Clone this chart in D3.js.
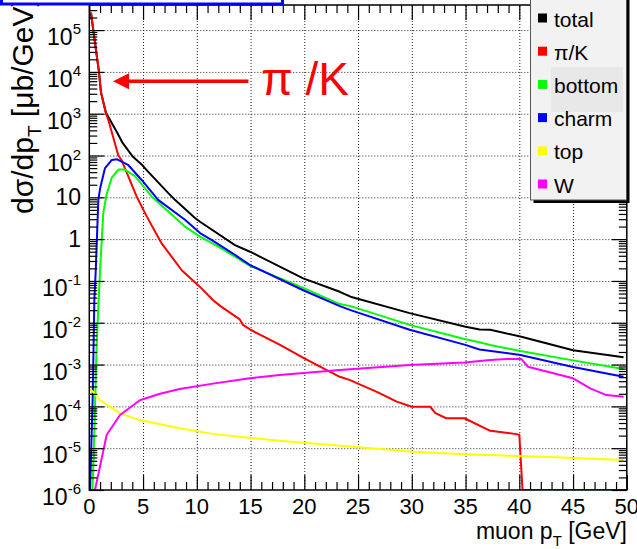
<!DOCTYPE html>
<html>
<head>
<meta charset="utf-8">
<script src="https://cdnjs.cloudflare.com/ajax/libs/d3/7.8.5/d3.min.js"></script>
<style>
body { margin: 0; background: #fff; }
svg { display: block; }
text { font-family: "Liberation Sans", Arial, Helvetica, sans-serif; }
</style>
</head>
<body>
<div id="chart"></div>
<script>

// [pT (GeV), dsigma/dpT (mub/GeV)], 0 = empty bin
var totalPts = [[0.16, 2.6e5], [0.37, 1.0e5], [0.9, 1.0e4], [1.09, 3.2e3], [1.55, 1.05e3], [2.6, 3.5e2],
    [3.1, 2.0e2], [4.06, 9.3e1], [4.9, 6.0e1], [5.4, 4.3e1], [7.35, 1.26e1], [7.97, 8.7], [9.83, 3.2],
    [10.3, 2.6], [13.55, 0.72], [14.95, 0.5], [19.9, 0.115], [23.3, 5.5e-2], [24.3, 4.2e-2],
    [29.8, 1.7e-2], [34.9, 8.1e-3], [36.3, 6.9e-3], [37.3, 6.8e-3], [40.1, 4.7e-3], [45.0, 2.2e-3],
    [49.7, 1.5e-3]];

var pikPts = [[0.16, 2.6e5], [0.37, 1.0e5], [0.9, 1.0e4], [1.09, 3.2e3], [1.55, 1.0e3], [1.77, 7.1e2],
    [2.7, 1.0e2], [3.0, 7.8e1], [4.4, 1.05e1], [5.34, 3.5], [6.73, 0.79], [8.6, 0.18], [10.3, 7.2e-2],
    [11.5, 3.5e-2], [12.2, 2.5e-2], [14.0, 1.2e-2], [14.3, 8.9e-3], [15.0, 6.8e-3], [17.7, 3.0e-3],
    [20.0, 1.4e-3], [23.3, 5.1e-4], [24.2, 4.3e-4], [26.8, 2.2e-4], [28.6, 1.3e-4], [30.0, 9.8e-5],
    [31.7, 9.8e-5], [32.2, 6.9e-5], [33.2, 5.2e-5], [34.9, 5.2e-5], [37.3, 2.6e-5], [39.6, 2.2e-5],
    [40.0, 2.1e-5], [40.3, 0], [50, 0]];

var bottomPts = [[0.3, 0], [0.47, 2.5e-5], [0.69, 3.3e-3], [1.0, 0.18], [1.3, 4.2], [1.6, 1.15e1],
    [2.08, 2.9e1], [2.7, 4.6e1], [3.3, 4.6e1], [4.25, 3.2e1], [5.8, 1.05e1], [8.9, 2.0], [10.3, 1.15],
    [12.0, 0.66], [13.55, 0.38], [14.95, 0.23], [19.9, 6.8e-2], [23.3, 2.8e-2], [24.3, 2.5e-2],
    [29.8, 8.9e-3], [34.9, 4.1e-3], [36.3, 3.4e-3], [37.3, 2.95e-3], [40.1, 2.1e-3], [45.0, 1.26e-3],
    [49.7, 7.8e-4]];

var charmPts = [[0.07, 0], [0.16, 6.3e-6], [0.31, 1.4e-4], [0.47, 3.5e-2], [0.6, 0.18], [0.84, 8.7],
    [1.0, 1.6e1], [1.46, 5.0e1], [2.08, 7.8e1], [2.6, 8.1e1], [3.6, 6.0e1], [4.87, 2.6e1], [6.4, 8.7],
    [8.9, 2.9], [10.3, 1.4], [11.4, 0.95], [13.55, 0.42], [14.95, 0.24], [19.9, 6.0e-2], [23.3, 2.5e-2],
    [24.3, 2.0e-2], [29.8, 6.8e-3], [34.9, 3.0e-3], [36.3, 2.3e-3], [40.1, 1.7e-3], [45.0, 8.7e-4],
    [49.7, 5.1e-4]];

var topPts = [[0.07, 2.6e-4], [0.6, 1.9e-4], [1.0, 1.4e-4], [2.86, 6.8e-5], [4.7, 4.7e-5], [8.4, 3.0e-5],
    [11.5, 2.2e-5], [14.6, 1.8e-5], [17.7, 1.5e-5], [24.3, 1.1e-5], [29.8, 8.3e-6], [34.9, 7.2e-6],
    [39.8, 6.5e-6], [44.7, 5.9e-6], [49.7, 5.2e-6]];

var wPts = [[0.07, 0], [0.53, 0], [1.62, 2.1e-5], [2.86, 6.2e-5], [4.7, 1.4e-4], [6.58, 2.0e-4],
    [8.4, 2.6e-4], [11.5, 3.5e-4], [14.6, 4.6e-4], [17.7, 5.6e-4], [23.3, 7.4e-4], [29.8, 9.8e-4],
    [34.9, 1.12e-3], [37.3, 1.29e-3], [38.8, 1.35e-3], [40.2, 1.35e-3], [40.8, 8.9e-4], [45.0, 4.7e-4],
    [46.6, 2.7e-4], [48.1, 1.86e-4], [49.7, 1.7e-4]];

var legendLabels = ["total", "π/K", "bottom", "charm", "top", "W"];
var seriesColors = ["#000000", "#ff0000", "#00ff00", "#0000ff", "#ffff00", "#ff00ff"];
var xTicks = [0, 5, 10, 15, 20, 25, 30, 35, 40, 45, 50];
var yExponents = [5, 4, 3, 2, 1, 0, -1, -2, -3, -4, -5, -6];

var width = 637, height = 549;
var plotL = 89.3, plotR = 626.8, plotT = 5, plotB = 490;

var svg = d3.select("#chart").append("svg")
    .attr("width", width)
    .attr("height", height);

var x = d3.scaleLinear().domain([0, 50]).range([plotL, plotR]);
var y = d3.scaleLog().domain([1e-6, Math.pow(10, 5.6)]).range([plotB, plotT]);

svg.append("clipPath").attr("id", "plotclip")
    .append("rect")
    .attr("x", plotL).attr("y", plotT - 1)
    .attr("width", plotR - plotL).attr("height", plotB - plotT + 1);

// dotted grid
svg.append("g")
    .attr("transform", "translate(0," + plotB + ")")
    .call(d3.axisBottom(x).tickValues(xTicks.slice(1, -1)).tickSize(-(plotB - plotT)).tickFormat(""))
    .call(function(g) { g.select(".domain").remove(); })
    .selectAll("line")
    .attr("stroke", "#222").attr("stroke-dasharray", "1,2");

svg.append("g")
    .attr("transform", "translate(" + plotL + ",0)")
    .call(d3.axisLeft(y).tickValues(yExponents.slice(0, -1).map(function(e) { return Math.pow(10, e); }))
        .tickSize(-(plotR - plotL)).tickFormat(""))
    .call(function(g) { g.select(".domain").remove(); })
    .selectAll("line")
    .attr("stroke", "#222").attr("stroke-dasharray", "1,2");

// curves
var line = d3.line()
    .x(function(d) { return x(d[0]); })
    .y(function(d) { return d[1] > 0 ? y(d[1]) : y(1e-6); });

var allSeries = [totalPts, pikPts, bottomPts, charmPts, topPts, wPts];

svg.append("g")
    .attr("clip-path", "url(#plotclip)")
    .selectAll("path")
    .data(allSeries)
    .enter().append("path")
    .attr("d", line)
    .attr("fill", "none")
    .attr("stroke-width", 2)
    .attr("stroke-linejoin", "round")
    .attr("stroke", function(d, i) { return seriesColors[i]; });

// ROOT-style inward ticks on all four sides
var minorX = d3.range(0, 51).filter(function(v) { return v % 5 != 0; });
var minorY = [];
yExponents.forEach(function(e) {
    for (var m = 2; m <= 9; m++) {
        var v = m * Math.pow(10, e);
        if (v <= y.domain()[1]) minorY.push(v);
    }
});
var majorY = yExponents.map(function(e) { return Math.pow(10, e); });

function tickGroup(axis, tx, ty) {
    return svg.append("g")
        .attr("transform", "translate(" + tx + "," + ty + ")")
        .call(axis)
        .call(function(g) {
            g.select(".domain").remove();
            g.selectAll("text").remove();
            g.selectAll("line").attr("stroke", "#000").attr("stroke-width", 1.2);
        });
}

tickGroup(d3.axisBottom(x).tickValues(xTicks).tickSize(-15), 0, plotB);
tickGroup(d3.axisBottom(x).tickValues(minorX).tickSize(-8), 0, plotB);
tickGroup(d3.axisTop(x).tickValues(xTicks).tickSize(-15), 0, plotT);
tickGroup(d3.axisTop(x).tickValues(minorX).tickSize(-8), 0, plotT);
tickGroup(d3.axisLeft(y).tickValues(majorY).tickSize(-15), plotL, 0);
tickGroup(d3.axisLeft(y).tickValues(minorY).tickSize(-8), plotL, 0);
tickGroup(d3.axisRight(y).tickValues(majorY).tickSize(-15), plotR, 0);
tickGroup(d3.axisRight(y).tickValues(minorY).tickSize(-8), plotR, 0);

// frame
svg.append("rect")
    .attr("x", plotL).attr("y", plotT)
    .attr("width", plotR - plotL).attr("height", plotB - plotT)
    .attr("fill", "none")
    .attr("stroke", "#000")
    .attr("stroke-width", 1.5);

// x tick labels
svg.append("g")
    .selectAll("text")
    .data(xTicks)
    .enter().append("text")
    .attr("x", function(d) { return x(d); })
    .attr("y", 514)
    .attr("text-anchor", "middle")
    .attr("font-size", 22)
    .text(function(d) { return d; });

// y tick labels, powers of ten
var ylab = svg.append("g")
    .selectAll("text")
    .data(yExponents)
    .enter().append("text")
    .attr("text-anchor", "end")
    .attr("font-size", 23)
    .attr("x", 81)
    .attr("y", function(d) { return y(Math.pow(10, d)) + (d == 0 || d == 1 ? 8 : 15); });

ylab.each(function(d) {
    var t = d3.select(this);
    if (d == 0) { t.text("1"); return; }
    if (d == 1) { t.text("10"); return; }
    t.append("tspan").text("10");
    t.append("tspan").attr("font-size", 15).attr("dy", -11).text(d);
});

// axis titles
var xt = svg.append("text")
    .attr("x", 627).attr("y", 539)
    .attr("text-anchor", "end")
    .attr("font-size", 23);
xt.append("tspan").text("muon p");
xt.append("tspan").attr("font-size", 15).attr("dy", 7).text("T");
xt.append("tspan").attr("dy", -7).text(" [GeV]");

var yt = svg.append("text")
    .attr("transform", "translate(33,214) rotate(-90)")
    .attr("text-anchor", "start")
    .attr("font-size", 30);
yt.append("tspan").text("dσ/dp");
yt.append("tspan").attr("font-size", 19).attr("dy", 8).text("T");
yt.append("tspan").attr("dy", -8).text(" [μb/GeV]");

// pi/K annotation
svg.append("line")
    .attr("x1", x(14.8)).attr("y1", y(6e3))
    .attr("x2", x(3.5)).attr("y2", y(6e3))
    .attr("stroke", "#ff0000")
    .attr("stroke-width", 3.5);

svg.append("path")
    .attr("d", d3.line()([[x(2.2), y(6e3)], [x(3.7), y(6e3) - 8], [x(3.7), y(6e3) + 8]]))
    .attr("fill", "#ff0000");

svg.append("text")
    .attr("x", 261).attr("y", 95)
    .attr("font-size", 46)
    .attr("fill", "#ff0000")
    .text("π /K");

// legend
var lg = svg.append("g");
lg.append("rect")
    .attr("x", 533.5).attr("y", -5).attr("width", 96).attr("height", 208)
    .attr("fill", "#000");
lg.append("rect")
    .attr("x", 530.5).attr("y", -8).attr("width", 96).attr("height", 208)
    .attr("fill", "#f2f2f2")
    .attr("stroke", "#555").attr("stroke-width", 1);
lg.append("rect")
    .attr("x", 551).attr("y", 67).attr("width", 72).attr("height", 45)
    .attr("fill", "#e8e8e8");

var entry = lg.selectAll(".entry")
    .data(legendLabels)
    .enter().append("g")
    .attr("class", "entry")
    .attr("transform", function(d, i) { return "translate(0," + (18 + i * 33.2) + ")"; });

entry.append("rect")
    .attr("x", 538).attr("y", -4.5).attr("width", 9).attr("height", 9)
    .attr("fill", function(d, i) { return seriesColors[i]; });

entry.append("text")
    .attr("x", 554).attr("y", 8.5)
    .attr("font-size", 21)
    .text(function(d) { return d; });

// title box, cut at the top of the canvas
svg.append("rect")
    .attr("x", 1.5).attr("y", -10).attr("width", 281).attr("height", 14)
    .attr("fill", "#fff")
    .attr("stroke", "#0000ff").attr("stroke-width", 3);

</script>
</body>
</html>
